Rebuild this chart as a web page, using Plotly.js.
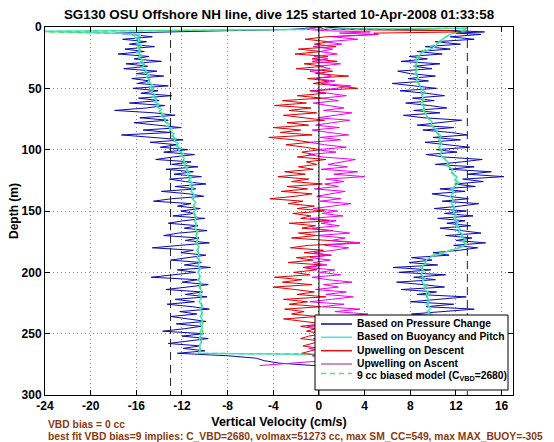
<!DOCTYPE html>
<html>
<head>
<meta charset="utf-8">
<script src="https://cdn.plot.ly/plotly-3.0.1.min.js"></script>
<style>html,body{margin:0;padding:0;background:#fff;}#chart{width:554px;height:442px;}</style>
</head>
<body>
<div id="chart"></div>
<script>
// ---------------- data ----------------
const titleText = "SG130 OSU Offshore NH line, dive 125 started 10-Apr-2008 01:33:58";
const seriesNames = ["Based on Pressure Change", "Based on Buoyancy and Pitch", "Upwelling on Descent", "Upwelling on Ascent", "9 cc biased model (C<sub>VBD</sub>=2680)"];
const xTicks = [-24, -20, -16, -12, -8, -4, 0, 4, 8, 12, 16];
const yTicks = [0, 50, 100, 150, 200, 250, 300];
const refLines = [-13, 13];
const noteLines = ["VBD bias = 0 cc", "best fit VBD bias=9 implies: C_VBD=2680, volmax=51273 cc, max SM_CC=549, max MAX_BUOY=-305"];

// descent depths (m) shared by pressure-change descent and upwelling on descent
const dDesc = [0, 1, 2, 3, 4, 5, 6,
  8, 10, 12, 14, 16, 18, 20, 22, 24, 26,
  28, 30, 32, 34, 36, 38, 40, 42, 44, 46,
  48, 50, 52, 54, 56, 58, 60, 62, 64, 66,
  68, 70, 72, 74, 76, 78, 80, 82, 84, 86,
  88, 90, 92, 94, 96, 98, 100, 102, 104, 106,
  108, 110, 112, 114, 116, 118, 120, 122, 124, 126,
  128, 130, 132, 134, 136, 138, 140, 142, 144, 146,
  148, 150, 152, 154, 156, 158, 160, 162, 164, 166,
  168, 170, 172, 174, 176, 178, 180, 182, 184, 186,
  188, 190, 192, 194, 196, 198, 200, 202, 204, 206,
  208, 210, 212, 214, 216, 218, 220, 222, 224, 226,
  228, 230, 232, 234, 236, 238, 240, 242, 244, 246,
  248, 250, 252, 254, 256, 258, 260, 262, 264, 266,
  268, 270, 272, 274, 276];
const vBlueDesc = [0.3, -0.8, -2.5, -8.0, -13.5, -17.8, -16.5,
  -14.6, -17.2, -15.1, -16.6, -14.4, -17.0, -15.3, -17.6, -14.9, -16.2,
  -13.8, -16.9, -15.0, -17.1, -14.2, -16.0, -13.6, -16.4, -14.8, -15.9,
  -13.2, -16.3, -14.1, -15.6, -12.9, -15.8, -14.0, -16.6, -13.5, -15.1,
  -17.9, -14.4, -12.6, -15.7, -13.2, -16.2, -13.9, -12.1, -15.4, -13.0,
  -17.3, -14.2, -11.9, -14.8, -12.4, -13.9, -11.5, -13.6, -10.9, -12.8,
  -14.3, -11.2, -12.9, -10.6, -13.4, -11.0, -12.7, -10.3, -13.1, -11.7,
  -9.9, -12.6, -10.8, -13.8, -11.4, -10.1, -12.9, -14.5, -11.2, -12.4,
  -10.4, -12.1, -10.9, -12.8, -10.0, -11.9, -13.2, -10.6, -11.8, -9.8,
  -12.3, -13.6, -10.5, -11.7, -9.6, -12.2, -14.6, -11.0, -12.1, -9.9,
  -11.4, -13.0, -10.3, -11.8, -9.5, -12.4, -10.8, -13.1, -14.7, -10.6,
  -12.0, -9.7, -11.5, -13.4, -10.2, -11.7, -9.8, -12.6, -10.9, -13.3,
  -11.1, -9.6, -12.2, -10.7, -13.0, -11.4, -9.9, -12.5, -10.3, -11.8,
  -13.7, -10.1, -12.0, -9.7, -11.6, -13.2, -10.4, -11.9, -10.0, -12.4,
  -8.0, -5.5, -4.8, -3.5, -0.5];
const vUpDesc = [0, 0.3, 0.5, 11.5, 12.5, 4.8, 5.2,
  0.6, -1.2, 0.9, -0.4, 1.5, -1.8, 0.2, -2.1, 0.8, -0.6,
  1.6, -1.3, 0.4, -2.0, 1.2, -0.3, 2.6, -1.0, 0.9, -0.5,
  1.7, 3.4, -0.8, 0.6, -1.9, 0.3, -3.2, -1.1, -3.9, -0.7,
  -2.6, -0.2, -3.1, -1.4, 0.5, -2.8, -0.9, -4.0, -1.6, -3.4,
  -0.6, -4.4, -2.2, -0.8, -2.9, -1.2, 0.1, -1.5, -0.4, -1.9,
  0.6, -1.1, -0.2, -1.8, -0.5, -3.0, -1.2, -3.6, -0.9, -2.4,
  0.3, -2.8, -1.0, -3.3, -0.6, -2.1, -4.3, -1.4, -2.7, -0.4,
  -1.9, 0.5, -2.3, -0.7, -1.6, 0.9, -2.6, -0.3, -1.5, 1.2,
  -1.8, -0.2, -2.4, 0.8, 3.6, -0.9, -2.5, 0.4, -1.3, 1.1,
  -2.0, -0.5, -2.7, 0.3, -1.4, -0.2, -2.2, -0.8, -3.9, -1.5,
  -3.2, -0.6, -4.0, -2.1, -0.4, -1.9, 0.6, -3.1, -1.0, -2.6,
  0.2, -3.0, -1.3, -2.4, -0.1, -3.1, -1.2, 0.4, -1.6, -0.3,
  -1.1, 0.4, -0.9, -1.6, 0.2, -0.7, -1.4, 0.1, -0.8, -1.5,
  0.5, 1.0, 0.8, 0.5, 0.3];

// ascent depths (m) shared by pressure-change ascent and upwelling on ascent
const dAsc = [276, 274, 272, 270, 268, 266, 264, 262, 260, 258,
  256, 254, 252, 250, 248, 246, 244, 242, 240, 238,
  236, 234, 232, 230, 228, 226, 224, 222, 220, 218,
  216, 214, 212, 210, 208, 206, 204, 202, 200, 198,
  196, 194, 192, 190, 188, 186, 184, 182, 180, 178,
  176, 174, 172, 170, 168, 166, 164, 162, 160, 158,
  156, 154, 152, 150, 148, 146, 144, 142, 140, 138,
  136, 134, 132, 130, 128, 126, 124, 122, 120, 118,
  116, 114, 112, 110, 108, 106, 104, 102, 100, 98,
  96, 94, 92, 90, 88, 86, 84, 82, 80, 78,
  76, 74, 72, 70, 68, 66, 64, 62, 60, 58,
  56, 54, 52, 50, 48, 46, 44, 42, 40, 38,
  36, 34, 32, 30, 28, 26, 24, 22, 20, 18,
  16, 14, 12, 10, 8, 6,
  5, 4, 3, 2, 1, 0];
const vBlueAsc = [0.5, 5.0, 9.0, 11.6, 9.4, 12.3, 10.1, 8.7, 11.5, 9.6,
  12.0, 8.9, 10.8, 12.6, 9.2, 11.0, 8.4, 10.6, 12.2, 9.0,
  10.9, 8.1, 11.3, 13.6, 9.4, 11.8, 8.0, 10.5, 12.9, 8.6,
  10.3, 7.2, 11.0, 9.1, 6.8, 10.2, 8.3, 11.1, 7.0, 9.8,
  6.5, 10.4, 7.9, 9.9, 8.1, 11.4, 10.0, 12.3, 13.9, 11.8,
  14.6, 12.0, 13.4, 11.1, 14.2, 12.5, 10.6, 13.3, 11.2, 12.8,
  10.4, 13.5, 11.0, 12.9, 10.1, 12.4, 14.0, 10.8, 13.1, 11.3,
  9.9, 12.8, 10.6, 13.7, 11.9, 14.4, 12.6, 16.2, 13.0, 15.1,
  11.4, 13.6, 10.2, 12.5, 14.3, 11.0, 9.4, 12.1, 10.3, 13.2,
  11.1, 9.3, 12.4, 10.0, 13.0, 11.6, 9.1, 11.8, 8.6, 10.9,
  12.5, 9.2, 7.4, 10.6, 8.3, 11.2, 9.7, 7.6, 10.1, 8.2,
  11.0, 9.4, 7.1, 10.3, 8.5, 6.4, 9.6, 7.8, 10.2, 8.0,
  6.9, 9.9, 8.3, 10.6, 7.2, 9.5, 7.9, 10.8, 8.6, 11.5,
  9.3, 12.4, 10.2, 13.6, 11.5, 14.2,
  12.0, 14.5, 12.0, 6.0, 2.0, 0.5];
const vUpAsc = [-5.2, -2.0, 0.5, 1.2, -0.6, 1.8, 0.2, -0.9, 1.4, 0.1,
  2.0, -0.5, 0.9, 2.4, -0.4, 1.3, -1.0, 0.8, 2.6, 0.2,
  1.5, 4.3, 1.4, 3.6, 0.3, 2.2, -0.8, 1.1, 3.0, 0.6,
  2.4, -0.3, 1.7, 0.4, 2.9, 0.8, -0.6, 1.9, 0.1, 1.4,
  -1.2, 0.7, -0.5, 1.0, -0.8, 0.9, -0.4, 1.3, 2.6, 0.5,
  3.6, 1.1, 2.3, -0.2, 2.7, 1.0, -0.6, 1.8, 0.2, 1.5,
  -0.8, 2.1, 0.3, 1.6, -0.5, 1.2, 2.8, 0.1, 1.9, -0.2,
  1.0, 2.3, -0.4, 1.7, 0.5, 2.2, 0.6, 4.0, 1.3, 3.4,
  0.2, 2.5, 0.8, 1.9, 3.2, 0.4, -0.9, 1.5, -0.2, 2.4,
  0.5, -0.8, 1.9, 0.1, 2.6, 0.9, -0.6, 1.8, -0.3, 1.2,
  2.7, -0.1, 1.6, 2.9, 0.4, 2.2, 0.8, -0.5, 1.7, 0.3,
  2.4, 0.6, -0.7, 1.5, 2.8, 0.2, 1.4, -0.3, 1.1, 0.3,
  -0.8, 1.0, 0.0, 1.9, -0.6, 0.8, -0.4, 1.6, 0.1, 1.2,
  -0.5, 2.0, 0.6, 3.4, 1.2, 5.2,
  1.8, 4.5, 0.5, -1.0, -0.5, 0];

// buoyancy-and-pitch model (smooth)
const dCyanDesc = [1, 3.5, 5, 7, 9, 11, 13, 15, 17, 19,
  21, 23, 25, 27, 29, 31, 33, 35, 37, 39,
  41, 43, 45, 47, 49, 51, 53, 55, 57, 59,
  61, 63, 65, 67, 69, 71, 73, 75, 77, 79,
  81, 83, 85, 87, 89, 91, 93, 95, 97, 99,
  101, 103, 105, 107, 109, 111, 113, 115, 117, 119,
  121, 123, 125, 127, 129, 131, 134, 137, 140, 143,
  146, 149, 152, 155, 158, 161, 164, 167, 170, 173,
  176, 179, 182, 185, 188, 191, 194, 197, 200, 203,
  206, 209, 212, 215, 218, 221, 224, 227, 230, 233,
  236, 239, 242, 245, 248, 251, 254, 257, 260, 263,
  266, 267.5];
const vCyanDesc = [13, -25, -17.5, -15.6, -16.1, -15.7, -16.0, -15.5, -15.9, -15.6,
  -16.0, -15.5, -15.8, -15.4, -15.7, -15.3, -15.5, -15.1, -15.3, -14.9,
  -15.1, -14.8, -15.0, -14.6, -14.8, -14.5, -14.7, -14.4, -14.6, -14.2,
  -14.4, -14.0, -14.2, -13.8, -14.0, -13.6, -13.8, -13.4, -13.5, -13.1,
  -13.3, -12.9, -13.1, -12.7, -12.9, -12.5, -12.7, -12.3, -12.5, -12.1,
  -12.3, -11.9, -12.1, -11.8, -11.9, -11.6, -11.8, -11.5, -11.6, -11.3,
  -11.5, -11.2, -11.4, -11.1, -11.3, -11.0, -11.2, -10.9, -11.1, -10.8,
  -11.0, -10.8, -11.0, -10.7, -10.9, -10.7, -10.9, -10.6, -10.8, -10.6,
  -10.8, -10.5, -10.7, -10.5, -10.7, -10.4, -10.6, -10.4, -10.6, -10.4,
  -10.6, -10.3, -10.5, -10.3, -10.5, -10.3, -10.5, -10.2, -10.4, -10.2,
  -10.4, -10.2, -10.4, -10.2, -10.4, -10.3, -10.5, -10.3, -10.5, -10.4,
  -10.6, 10.0];
const dCyanAsc = [268, 265, 262, 259, 256, 253, 250, 247, 244, 241,
  238, 235, 232, 229, 226, 223, 220, 217, 214, 211,
  208, 205, 202, 199, 196, 193, 190, 187, 185, 183,
  181, 179, 177, 175, 173, 171, 169, 167, 165, 162,
  159, 156, 153, 150, 147, 144, 141, 138, 135, 132,
  129, 127, 125, 122, 119, 116, 113, 110, 107, 104,
  101, 98, 95, 92, 89, 86, 83, 80, 77, 74,
  71, 68, 65, 62, 59, 56, 53, 50, 47, 44,
  41, 38, 35, 32, 29, 26, 23, 20, 18, 16,
  14, 12, 10, 8, 6, 5, 4, 3, 2];
const vCyanAsc = [10.3, 10.6, 10.2, 10.5, 10.1, 10.4, 10.0, 10.3, 9.9, 10.2,
  9.8, 10.0, 9.5, 9.8, 9.4, 9.7, 9.4, 9.7, 9.2, 9.4,
  9.0, 9.3, 8.9, 9.2, 8.9, 9.3, 9.4, 9.9, 10.6, 11.2,
  12.0, 12.6, 12.9, 12.6, 12.8, 12.4, 12.6, 12.2, 12.4, 12.0,
  12.2, 11.8, 12.0, 11.7, 11.9, 11.6, 11.8, 11.5, 11.8, 11.6,
  12.0, 12.3, 11.9, 12.1, 11.6, 11.7, 11.2, 11.3, 10.9, 10.6,
  10.8, 10.5, 10.8, 10.5, 10.7, 10.4, 10.2, 9.8, 9.9, 9.5,
  9.4, 9.1, 9.2, 8.9, 9.2, 9.0, 9.3, 8.9, 8.8, 8.5,
  8.7, 8.4, 8.6, 8.4, 8.6, 8.5, 8.8, 9.2, 9.8, 10.2,
  10.3, 10.7, 10.8, 11.1, 11.5, 11.8, 12.2, 12.6, 12.8];

// 9 cc biased model
const dGreenDesc = [1, 3.8, 5.5, 10, 15, 20, 25, 30, 35, 40, 45, 50, 55, 60, 65, 70, 75, 80, 85, 90,
  95, 100, 105, 110, 115, 120, 125, 130, 140, 150, 160, 170, 180, 190, 200, 210, 220, 230, 240, 250,
  260, 266, 267.3];
const vGreenDesc = [13, -25, -16.5, -15.7, -15.9, -15.6, -15.8, -15.3, -15.2, -15.0, -14.8, -14.6, -14.5, -14.2, -14.1, -13.8, -13.6, -13.2, -13.0, -12.7,
  -12.5, -12.2, -12.0, -11.8, -11.6, -11.5, -11.3, -11.2, -11.0, -10.9, -10.8, -10.7, -10.6, -10.5, -10.5, -10.4, -10.3, -10.3, -10.2, -10.2,
  -10.3, -10.4, 10.0];
const dGreenAsc = [270, 260, 250, 240, 230, 220, 210, 200, 195, 190, 186, 183, 180, 177, 170, 160, 150, 140, 130, 125,
  120, 110, 100, 90, 80, 70, 60, 50, 40, 30, 20, 15, 10, 6, 4, 2];
const vGreenAsc = [10.4, 10.3, 10.1, 9.9, 9.6, 9.5, 9.2, 9.0, 9.1, 9.4, 10.0, 11.1, 12.3, 12.8, 12.5, 12.1, 11.8, 11.7, 11.8, 12.1,
  11.8, 11.2, 10.6, 10.6, 9.9, 9.3, 9.1, 8.9, 8.6, 8.5, 9.0, 10.0, 10.8, 11.5, 12.3, 12.9];

// ---------------- styling ----------------
const colors = ['#0a0ab4', '#3fe0d0', '#e00000', '#f000f0', '#55dd55'];
const legendColors = ['#1a1aa0', '#5cdcdc', '#d81818', '#c070c8', '#66dd66'];
const widths = [1, 1.5, 1, 1, 1.2];
const dashes = ['solid', 'solid', 'solid', 'solid', '5px,4px'];
const FONT = 'Liberation Sans, Arial, Helvetica, sans-serif';

const traces = [
  {x: vBlueDesc.concat(vBlueAsc), y: dDesc.concat(dAsc)},
  {x: vCyanDesc.concat(vCyanAsc), y: dCyanDesc.concat(dCyanAsc)},
  {x: vUpDesc, y: dDesc},
  {x: vUpAsc, y: dAsc},
  {x: vGreenDesc.concat(vGreenAsc), y: dGreenDesc.concat(dGreenAsc)}
].map((t, i) => Object.assign(t, {
  type: 'scatter', mode: 'lines', name: seriesNames[i], hoverinfo: 'skip',
  line: {color: colors[i], width: widths[i], dash: dashes[i]}
}));

// plot-area geometry for the hand-drawn legend (paper coordinates)
const L = 45, R = 41, T = 27, B = 47, W = 554, H = 442;
const pw = W - L - R, ph = H - T - B;
const px = v => (v - L) / pw;
const py = v => (H - B - v) / ph;

const shapes = [];
shapes.push({type: 'line', xref: 'x', yref: 'y', x0: 0, x1: 0, y0: 0, y1: 300, layer: 'above', line: {color: 'black', width: 1}});
refLines.forEach(v => shapes.push({type: 'line', xref: 'x', yref: 'y', x0: v, x1: v, y0: 0, y1: 300, layer: 'above', line: {color: '#222', width: 1, dash: '8px,5px'}}));
shapes.push({type: 'rect', xref: 'paper', yref: 'paper', x0: px(315), x1: px(508), y0: py(315), y1: py(390), layer: 'above', fillcolor: 'white', line: {color: 'black', width: 1}});

const legRows = [323.5, 336.8, 350, 363, 376.5];
const lineRows = [324, 337.3, 350.7, 364, 373.5];
const annotations = [];
seriesNames.forEach((n, i) => {
  shapes.push({type: 'line', xref: 'paper', yref: 'paper', x0: px(321), x1: px(352), y0: py(lineRows[i]), y1: py(lineRows[i]), layer: 'above',
    line: {color: legendColors[i], width: 1.6, dash: dashes[i]}});
  annotations.push({xref: 'paper', yref: 'paper', x: px(355), y: py(legRows[i]), xanchor: 'left', yanchor: 'middle', showarrow: false,
    text: n, font: {family: FONT, size: 10.3, weight: 'bold', color: 'black'}});
});
annotations.push({xref: 'paper', yref: 'paper', x: px(46), y: py(424), xanchor: 'left', yanchor: 'middle', showarrow: false,
  text: noteLines[0], font: {family: FONT, size: 10.3, weight: 'bold', color: '#8b3a12'}});
annotations.push({xref: 'paper', yref: 'paper', x: px(46), y: py(436.5), xanchor: 'left', yanchor: 'middle', showarrow: false,
  text: noteLines[1], font: {family: FONT, size: 10.3, weight: 'bold', color: '#8b3a12'}});

const axisCommon = {
  showline: true, linecolor: 'black', linewidth: 1, mirror: 'ticks',
  ticks: 'inside', ticklen: 5, tickcolor: 'black', tickwidth: 1,
  showgrid: true, gridcolor: '#8c8c8c', gridwidth: 1, griddash: '1px,3px',
  zeroline: false, tickfont: {family: FONT, size: 12, weight: 'bold', color: 'black'}
};

const layout = {
  width: W, height: H, margin: {l: L, r: R, t: T, b: B, pad: 0},
  paper_bgcolor: 'white', plot_bgcolor: 'white', showlegend: false,
  font: {family: FONT, size: 12, color: 'black'},
  title: {text: titleText, font: {family: FONT, size: 13.4, weight: 'bold', color: 'black'},
    x: 0.5, xref: 'paper', xanchor: 'center', y: 1 - 14.5 / H, yref: 'container', yanchor: 'middle'},
  xaxis: Object.assign({}, axisCommon, {range: [-24, 17], tickvals: xTicks, ticktext: xTicks.map(String),
    title: {text: 'Vertical Velocity (cm/s)', standoff: 4, font: {family: FONT, size: 12.5, weight: 'bold', color: 'black'}}}),
  yaxis: Object.assign({}, axisCommon, {range: [300, 0], tickvals: yTicks, ticktext: yTicks.map(String),
    title: {text: 'Depth (m)', standoff: 0, font: {family: FONT, size: 12, weight: 'bold', color: 'black'}}}),
  shapes: shapes, annotations: annotations
};

Plotly.newPlot('chart', traces, layout, {displayModeBar: false, staticPlot: true});
</script>
</body>
</html>
